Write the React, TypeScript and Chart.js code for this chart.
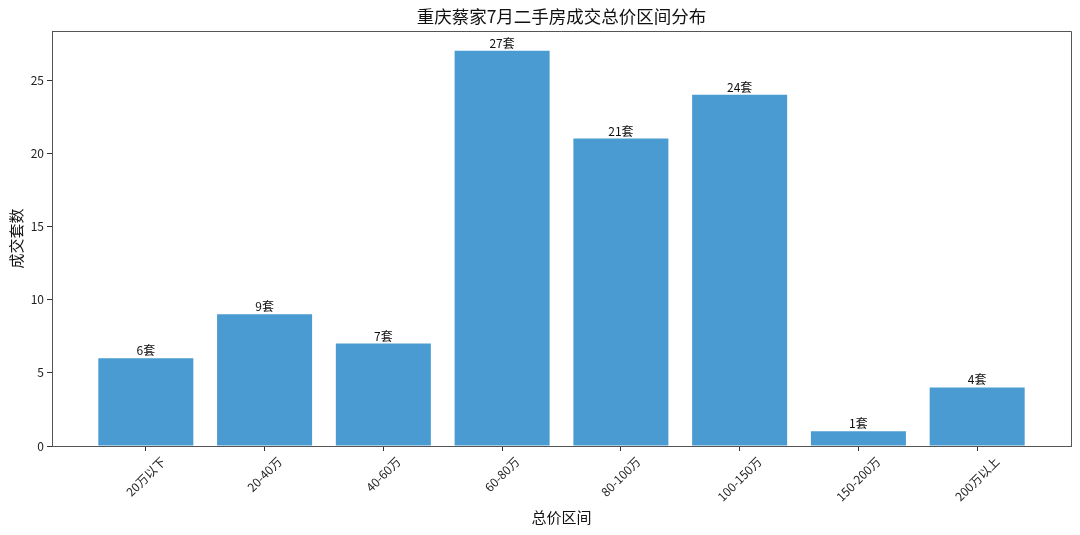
import React, { useEffect, useRef } from 'react';
import { Chart, registerables } from 'chart.js';
import type { ChartConfiguration, Plugin } from 'chart.js';

Chart.register(...registerables);

const FONT = '"Noto Sans CJK SC", "Noto Sans", sans-serif';

const categories = ['20万以下', '20-40万', '40-60万', '60-80万', '80-100万', '100-150万', '150-200万', '200万以上'];
const counts = [6, 9, 7, 27, 21, 24, 1, 4];
const yTicks = [0, 5, 10, 15, 20, 25];

const BAR_COLOR = '#4a9bd1';
const AXIS_COLOR = '#555555';

// draws the top/right spines, rotated x tick labels and the value labels
const decorPlugin: Plugin = {
  id: 'decor',
  afterDraw(chart) {
    const { ctx, chartArea, scales } = chart;
    const xScale = scales.x;
    const yScale = scales.y;

    ctx.save();
    ctx.strokeStyle = AXIS_COLOR;
    ctx.lineWidth = 1;
    ctx.beginPath();
    ctx.moveTo(chartArea.left, chartArea.top + 0.5);
    ctx.lineTo(chartArea.right + 0.5, chartArea.top + 0.5);
    ctx.lineTo(chartArea.right + 0.5, chartArea.bottom);
    ctx.stroke();

    // x tick labels, rotated 45 and centred on the tick
    const fs = 12;
    ctx.font = `${fs}px ${FONT}`;
    ctx.fillStyle = '#222';
    ctx.textAlign = 'center';
    ctx.textBaseline = 'middle';
    categories.forEach((label, i) => {
      const px = xScale.getPixelForValue(i);
      const w = ctx.measureText(label).width;
      const half = (w + fs) / (2 * Math.SQRT2);
      ctx.save();
      ctx.translate(px, chartArea.bottom + 9 + half);
      ctx.rotate(-Math.PI / 4);
      ctx.fillText(label, 0, 0);
      ctx.restore();
    });

    // value labels above bars
    ctx.textBaseline = 'alphabetic';
    ctx.fillStyle = '#111';
    counts.forEach((v, i) => {
      const px = xScale.getPixelForValue(i);
      const py = yScale.getPixelForValue(v);
      ctx.fillText(`${v}套`, px, py - 3);
    });

    // chart title
    ctx.font = `17.5px ${FONT}`;
    ctx.fillStyle = '#111';
    ctx.textBaseline = 'middle';
    ctx.fillText('重庆蔡家7月二手房成交总价区间分布', (chartArea.left + chartArea.right) / 2, 16);
    ctx.restore();
  }
};

const App: React.FC = () => {
  const chartRef = useRef<HTMLCanvasElement>(null);
  const chartInstanceRef = useRef<Chart | null>(null);

  useEffect(() => {
    document.body.style.margin = '0';
    if (!chartRef.current) return;
    if (chartInstanceRef.current) {
      chartInstanceRef.current.destroy();
    }
    const ctx = chartRef.current.getContext('2d');
    if (!ctx) return;

    const config: ChartConfiguration = {
      type: 'bar',
      data: {
        datasets: [
          {
            label: '成交套数',
            data: counts.map((v, i) => ({ x: i, y: v })),
            backgroundColor: BAR_COLOR,
            borderWidth: 0,
            barPercentage: 0.8,
            categoryPercentage: 1.0
          }
        ]
      },
      options: {
        responsive: false,
        animation: false,
        layout: { padding: { left: 3, top: 31, right: 9, bottom: 5 } },
        plugins: {
          legend: { display: false },
          tooltip: { enabled: false }
        },
        scales: {
          x: {
            type: 'linear',
            min: -0.79,
            max: 7.79,
            offset: false,
            afterBuildTicks: (scale: any) => {
              scale.ticks = categories.map((_, i) => ({ value: i }));
            },
            afterFit: (scale: any) => {
              scale.height = 84;
            },
            ticks: { display: false },
            grid: { offset: false, drawOnChartArea: false, drawTicks: true, tickLength: 5, color: '#333' },
            border: { display: true, color: AXIS_COLOR, width: 1 },
            title: {
              display: true,
              text: '总价区间',
              color: '#111',
              font: { family: FONT, size: 15 },
              padding: { top: 4, bottom: 4 }
            }
          },
          y: {
            type: 'linear',
            min: 0,
            max: 28.35,
            afterBuildTicks: (scale: any) => {
              scale.ticks = yTicks.map((v) => ({ value: v }));
            },
            afterFit: (scale: any) => {
              scale.width = 49;
            },
            ticks: {
              color: '#222',
              padding: 3,
              font: { family: FONT, size: 12 }
            },
            grid: { drawOnChartArea: false, drawTicks: true, tickLength: 5, color: '#333' },
            border: { display: true, color: AXIS_COLOR, width: 1 },
            title: {
              display: true,
              text: '成交套数',
              color: '#111',
              font: { family: FONT, size: 15 },
              padding: { top: 4, bottom: 4 }
            }
          }
        }
      },
      plugins: [decorPlugin]
    };

    chartInstanceRef.current = new Chart(ctx, config);

    return () => {
      if (chartInstanceRef.current) {
        chartInstanceRef.current.destroy();
        chartInstanceRef.current = null;
      }
    };
  }, []);

  return (
    <div style={{ width: 1080, height: 535, background: '#fff' }}>
      <canvas ref={chartRef} width={1080} height={535}></canvas>
    </div>
  );
};

export default App;
